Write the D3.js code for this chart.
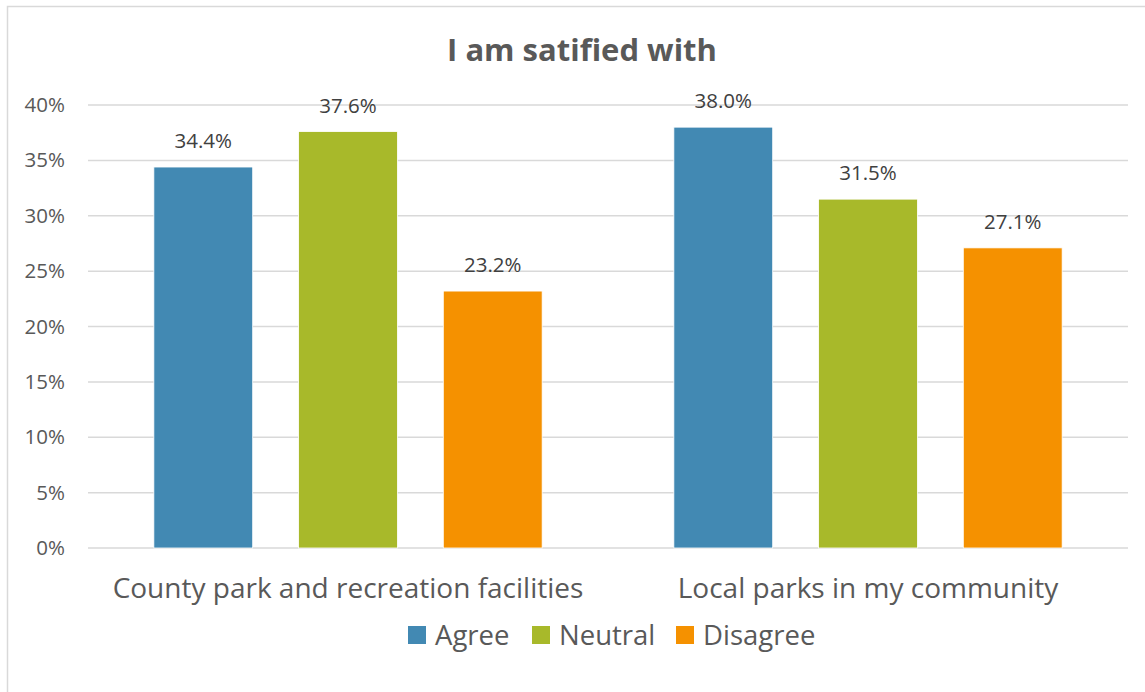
<!DOCTYPE html>
<html><head><meta charset="utf-8">
<script src="https://cdn.jsdelivr.net/npm/d3@7"></script>
<style>body{margin:0;background:#fff;} text{font-family:"Open Sans","Noto Sans",sans-serif;}</style>
</head><body>
<svg id="c" width="1145" height="692"></svg>
<script>
const categories = ["County park and recreation facilities", "Local parks in my community"];
const seriesNames = ["Agree", "Neutral", "Disagree"];
const agree = [34.4, 38.0];
const neutral = [37.6, 31.5];
const disagree = [23.2, 27.1];
const yTicks = [0, 5, 10, 15, 20, 25, 30, 35, 40];
const colors = ["#4289B3", "#A8B92A", "#F59100"];
const title = "I am satified with";

(function(){
const seriesValues = [agree, neutral, disagree];
const svg = d3.select("#c");
svg.append("rect").attr("x", 7.5).attr("y", 6.5).attr("width", 1145).attr("height", 700)
  .attr("fill", "#fff").attr("stroke", "#d9d9d9").attr("stroke-width", 1.5);

const pl = 88, pr = 1128, pt = 105, pb = 548;
const x0 = d3.scaleBand().domain(categories).range([pl, pr]).paddingInner(0).paddingOuter(0);
const x1 = d3.scaleBand().domain(seriesNames).range([0, x0.bandwidth()]).paddingInner(0.317).paddingOuter(0.455);
const y = d3.scaleLinear().domain([0, 40]).range([pb, pt]);

svg.append("g").selectAll("line").data(yTicks).join("line")
  .attr("x1", pl).attr("x2", pr)
  .attr("y1", d => y(d)).attr("y2", d => y(d))
  .attr("stroke", "#d9d9d9").attr("stroke-width", 1.5);

const yAxis = d3.axisLeft(y).tickValues(yTicks).tickFormat(d => d + "%").tickSize(0).tickPadding(23);
const ya = svg.append("g").attr("transform", `translate(${pl},0)`).call(yAxis);
ya.select(".domain").remove();
ya.selectAll("text").attr("font-size", 20.5).attr("fill", "#595959").attr("font-family", '"Open Sans",sans-serif');

const groups = svg.append("g").selectAll("g").data(categories).join("g")
  .attr("transform", d => `translate(${x0(d)},0)`);
groups.each(function(cat, ci) {
  const g = d3.select(this);
  seriesNames.forEach((s, si) => {
    const v = seriesValues[si][ci];
    g.append("rect").attr("x", x1(s)).attr("width", x1.bandwidth())
      .attr("y", y(v)).attr("height", y(0) - y(v))
      .attr("fill", colors[si]).attr("stroke", "#fff").attr("stroke-width", 0.8);
    g.append("text").attr("x", x1(s) + x1.bandwidth() / 2).attr("y", y(v) - 19)
      .attr("text-anchor", "middle").attr("font-size", 20.5).attr("fill", "#404040")
      .text(v.toFixed(1) + "%");
  });
});

svg.append("g").selectAll("text").data(categories).join("text")
  .attr("x", d => x0(d) + x0.bandwidth() / 2).attr("y", 598)
  .attr("text-anchor", "middle").attr("font-size", 28).attr("fill", "#595959")
  .text(d => d);

svg.append("text").attr("x", 582).attr("y", 61).attr("text-anchor", "middle")
  .attr("font-size", 31).attr("font-weight", "bold").attr("fill", "#595959").text(title);

const legendX = [408, 532, 676];
const lg = svg.append("g").selectAll("g").data(seriesNames).join("g")
  .attr("transform", (d, i) => `translate(${legendX[i]},626)`);
lg.append("rect").attr("width", 18).attr("height", 18).attr("fill", (d, i) => colors[i]);
lg.append("text").attr("x", 27).attr("y", 19).attr("font-size", 27.5).attr("fill", "#595959").text(d => d);
})();
</script>
</body></html>
